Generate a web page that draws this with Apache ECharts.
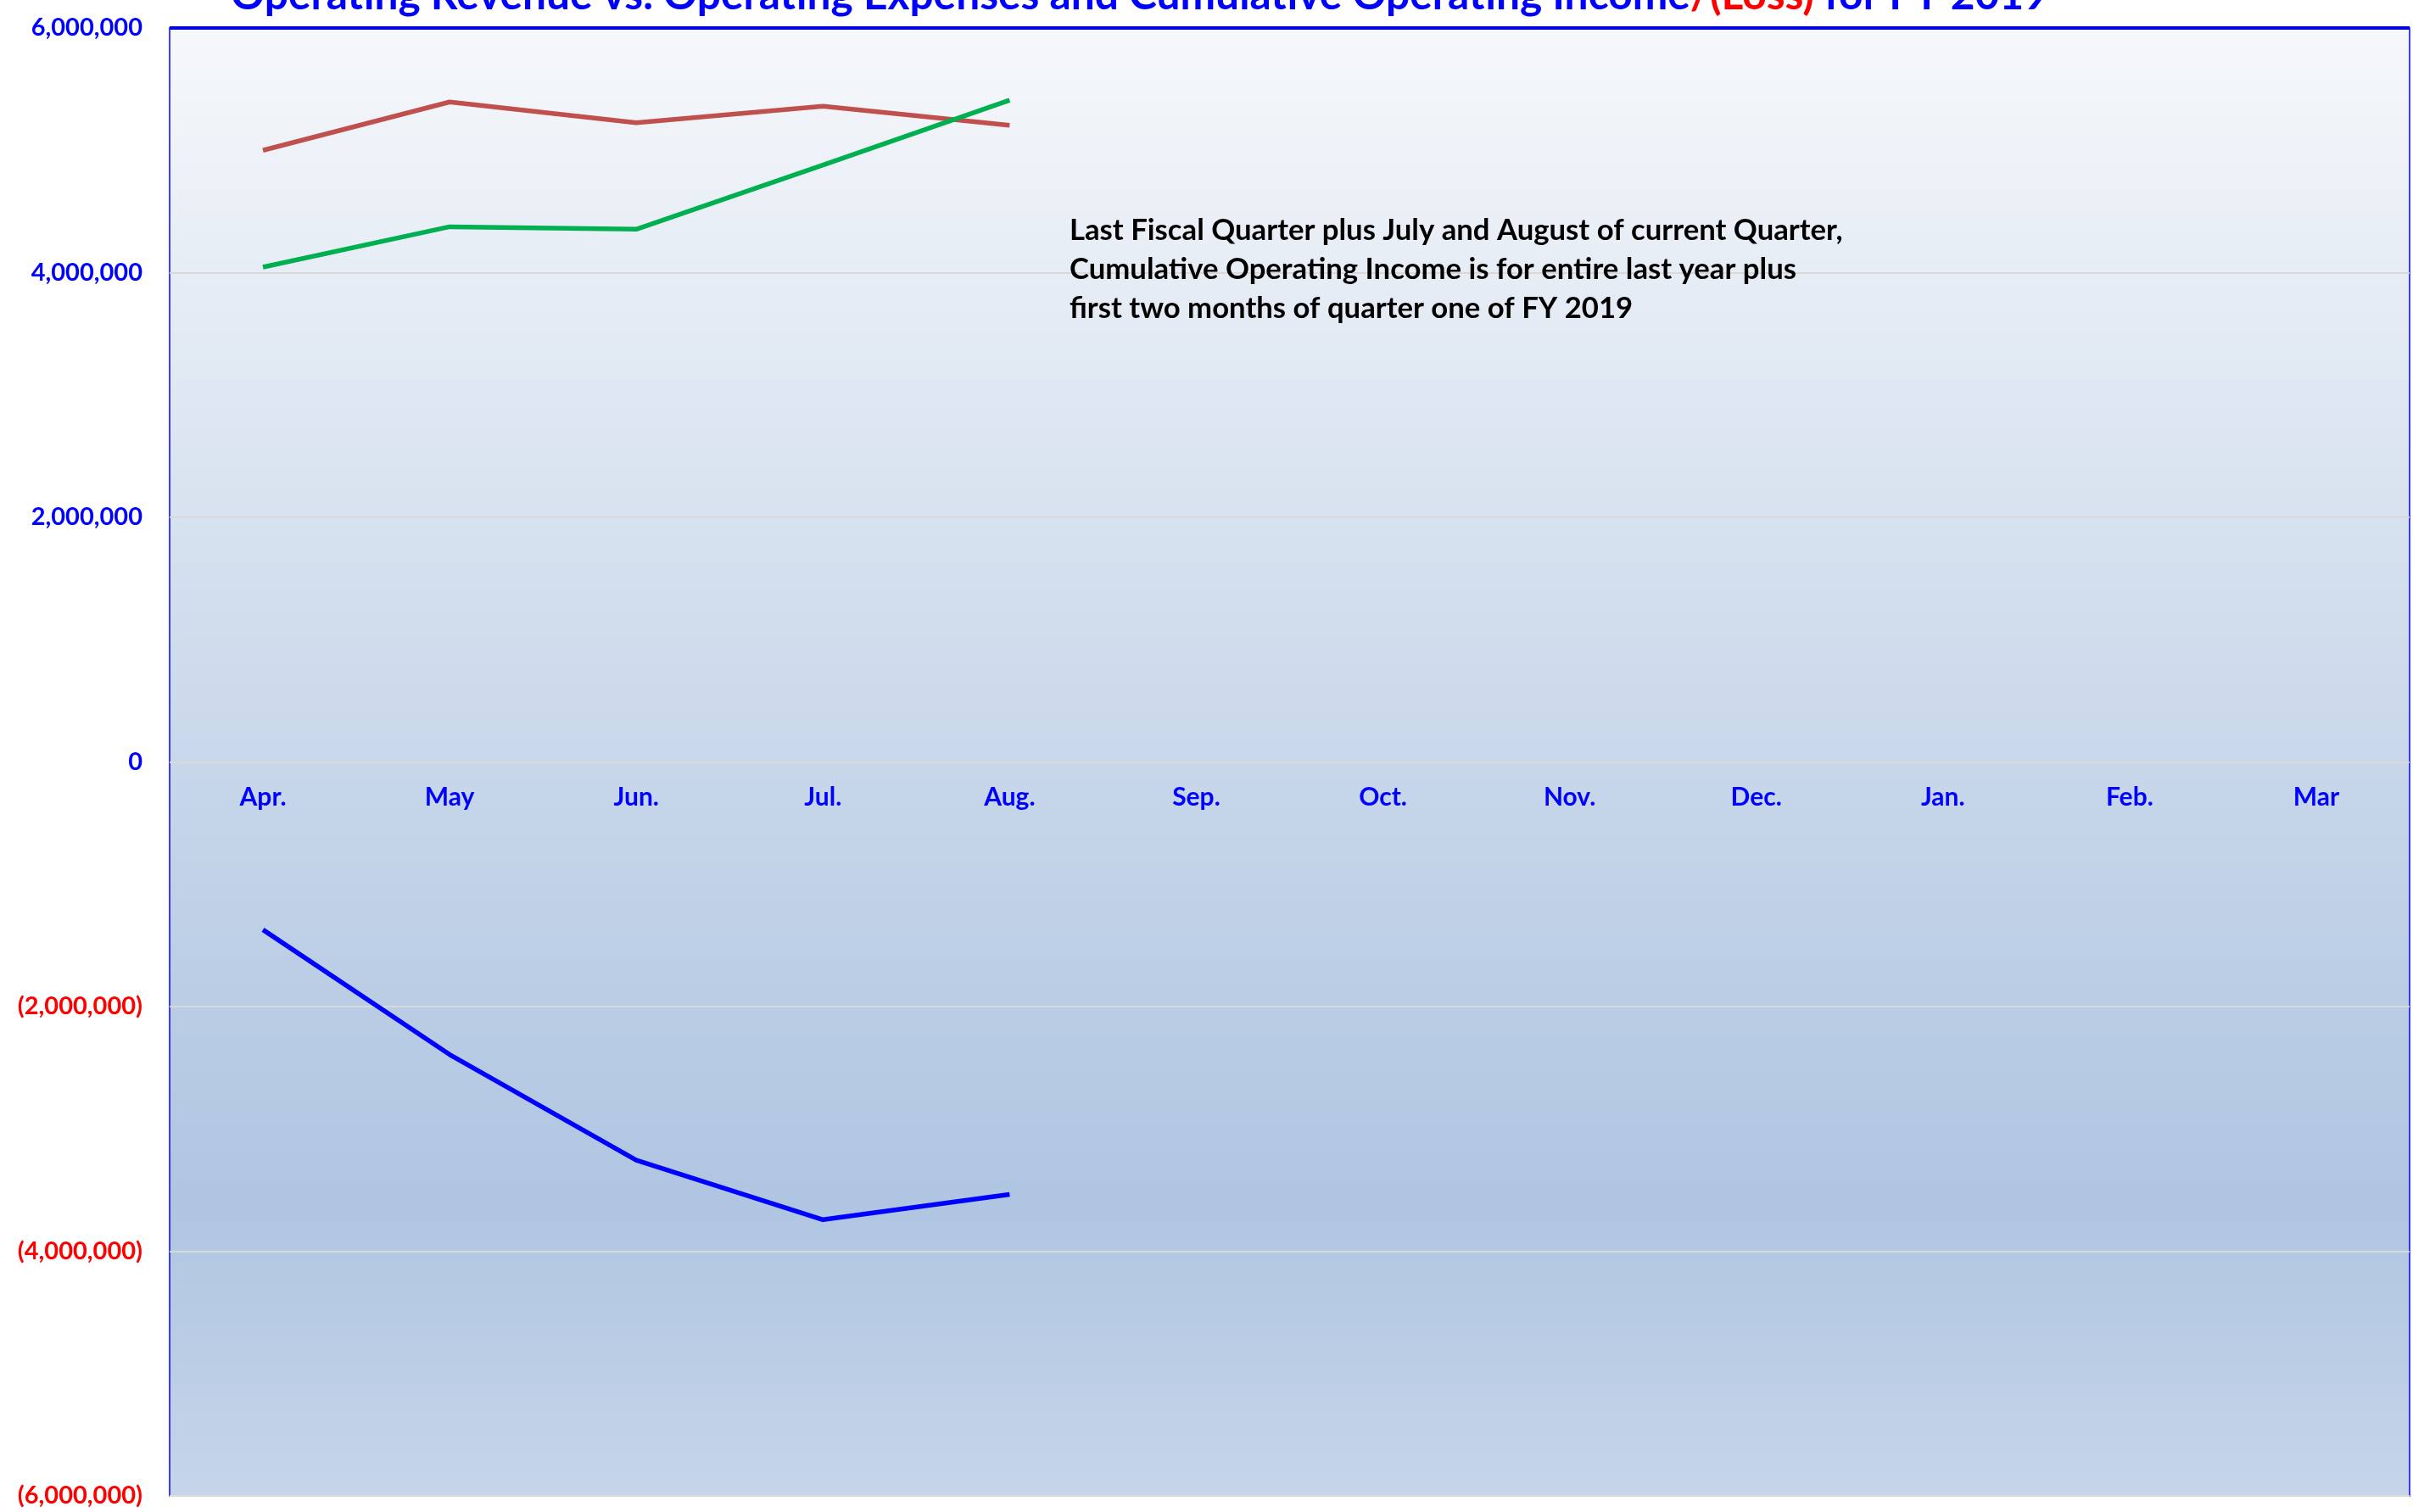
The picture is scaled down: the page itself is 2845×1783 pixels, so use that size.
<!DOCTYPE html>
<html>
<head>
<meta charset="utf-8">
<style>
  html, body { margin: 0; padding: 0; background: #ffffff; }
  #chart { width: 2845px; height: 1783px; }
</style>
<script src="https://cdn.jsdelivr.net/npm/echarts@6/dist/echarts.min.js"></script>
</head>
<body>
<div id="chart"></div>
<script>
// ---- Data ----
const months = ['Apr.', 'May', 'Jun.', 'Jul.', 'Aug.', 'Sep.', 'Oct.', 'Nov.', 'Dec.', 'Jan.', 'Feb.', 'Mar'];
const operatingExpenses = [5000000, 5395000, 5225000, 5360000, 5205000];
const operatingRevenue = [4045000, 4375000, 4355000, 4880000, 5410000];
const cumulativeOperatingIncome = [-1372000, -2392000, -3256000, -3742000, -3536000];
const yMin = -6000000;
const yMax = 6000000;
const yStep = 2000000;
const titleMain = 'Operating Revenue vs. Operating Expenses and Cumulative Operating Income';
const titleLoss = '/(Loss)';
const titleEnd = ' for FY 2019';
const noteLines = [
  'Last Fiscal Quarter plus July and August of current Quarter,',
  'Cumulative Operating Income is for entire last year plus',
  'first two months of quarter one of FY 2019'
];

const FONT = 'Lato, "Noto Sans", sans-serif';
const W = 2845, H = 1783;
const GRID = { left: 200, right: 4, top: 33, bottom: 19 };
const plotH = H - GRID.top - GRID.bottom;
// pixel distance from the bottom of the plot up to the zero value line
const zeroFromBottom = plotH * (0 - yMin) / (yMax - yMin);

const chart = echarts.init(document.getElementById('chart'));

const option = {
  animation: false,
  backgroundColor: '#ffffff',
  grid: {
    left: GRID.left, right: GRID.right, top: GRID.top, bottom: GRID.bottom,
    outerBoundsMode: 'none',
    containLabel: false,
    show: true,
    borderColor: '#0000FF',
    borderWidth: 1.5,
    backgroundColor: new echarts.graphic.LinearGradient(0, 0, 0, 1, [
      { offset: 0, color: '#F6F8FB' },
      { offset: 0.5, color: '#C8D7EA' },
      { offset: 0.8, color: '#AFC5E1' },
      { offset: 1, color: '#C6D5EA' }
    ])
  },
  xAxis: {
    type: 'category',
    data: months,
    position: 'bottom',
    offset: -zeroFromBottom,
    boundaryGap: true,
    axisLine: { show: false, onZero: false },
    axisTick: { show: false },
    axisLabel: {
      margin: 27,
      color: '#0000FF',
      fontFamily: FONT,
      fontWeight: 'bold',
      fontSize: 30,
      interval: 0
    },
    splitLine: { show: false }
  },
  yAxis: {
    type: 'value',
    min: yMin,
    max: yMax,
    interval: yStep,
    axisLine: { show: false },
    axisTick: { show: false },
    splitLine: { show: true, lineStyle: { color: '#D9D9D9', width: 2 } },
    axisLabel: {
      margin: 32,
      fontFamily: FONT,
      fontWeight: 'bold',
      fontSize: 29,
      formatter: function (v) {
        const s = Math.abs(v).toLocaleString('en-US');
        return v < 0 ? '{neg|(' + s + ')}' : '{pos|' + s + '}';
      },
      rich: {
        neg: { color: '#FF0000', fontFamily: FONT, fontWeight: 'bold', fontSize: 29 },
        pos: { color: '#0000FF', fontFamily: FONT, fontWeight: 'bold', fontSize: 29 }
      }
    }
  },
  series: [
    {
      name: 'Operating Expenses',
      type: 'line',
      data: operatingExpenses,
      symbol: 'none',
      lineStyle: { color: '#C0504D', width: 5.5 },
      itemStyle: { color: '#C0504D' },
      markLine: {
        silent: true,
        symbol: 'none',
        label: { show: false },
        lineStyle: { color: '#0000FF', width: 4, type: 'solid' },
        data: [{ yAxis: yMax }]
      }
    },
    {
      name: 'Operating Revenue',
      type: 'line',
      data: operatingRevenue,
      symbol: 'none',
      lineStyle: { color: '#00B050', width: 5.5 },
      itemStyle: { color: '#00B050' }
    },
    {
      name: 'Cumulative Operating Income/(Loss)',
      type: 'line',
      data: cumulativeOperatingIncome,
      symbol: 'none',
      lineStyle: { color: '#0000FF', width: 5.5 },
      itemStyle: { color: '#0000FF' }
    }
  ],
  graphic: [
    {
      type: 'text',
      x: 272,
      y: 20,
      style: {
        text: '{a|' + titleMain + '}{b|' + titleLoss + '}{a|' + titleEnd + '}',
        verticalAlign: 'bottom',
        rich: {
          a: { fill: '#0000FF', fontFamily: FONT, fontWeight: 'bold', fontSize: 49.7 },
          b: { fill: '#FF0000', fontFamily: FONT, fontWeight: 'bold', fontSize: 49.7 }
        }
      },
      z: 100
    },
    {
      type: 'text',
      x: 1261,
      y: 249,
      style: {
        text: noteLines.join('\n'),
        fill: '#000000',
        fontFamily: FONT,
        fontWeight: 'bold',
        fontSize: 34.7,
        lineHeight: 46,
        verticalAlign: 'top'
      },
      z: 100
    }
  ]
};

chart.setOption(option);
</script>
</body>
</html>
